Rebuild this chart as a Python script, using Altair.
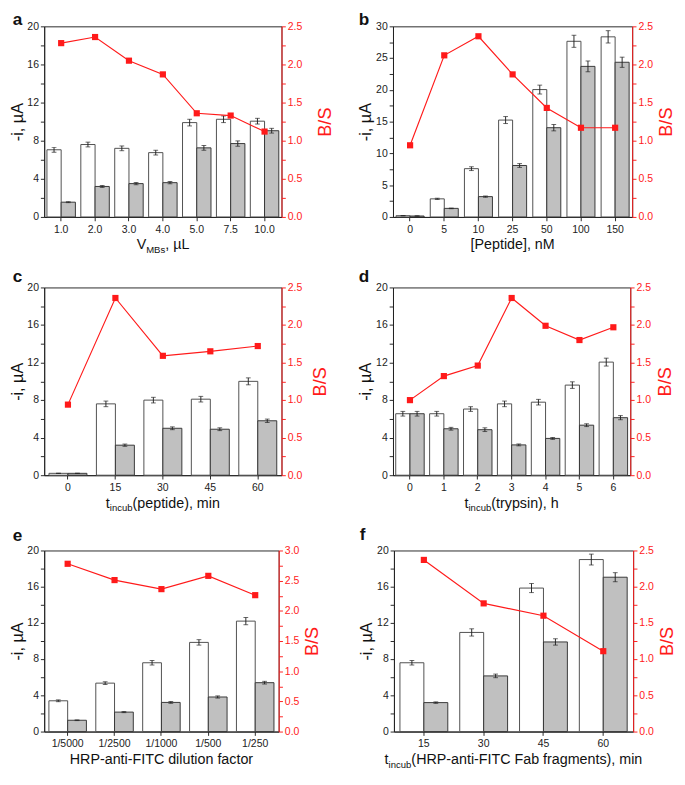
import altair as alt
import pandas as pd

FONT = "Liberation Sans"
RED = "#ff1a1a"
INK = "#222222"

# ---------------- data ----------------
a_cats = ["1.0", "2.0", "3.0", "4.0", "5.0", "7.5", "10.0"]
a_white = [7.05, 7.6, 7.2, 6.75, 9.9, 10.25, 10.05]
a_white_err = [0.25, 0.25, 0.25, 0.25, 0.35, 0.35, 0.3]
a_gray = [1.55, 3.2, 3.5, 3.6, 7.25, 7.7, 9.05]
a_gray_err = [0.05, 0.1, 0.12, 0.12, 0.25, 0.28, 0.25]
a_ratio = [2.28, 2.36, 2.05, 1.87, 1.36, 1.33, 1.12]

b_cats = ["0", "5", "10", "25", "50", "100", "150"]
b_white = [0.2, 2.85, 7.6, 15.25, 20.05, 27.65, 28.35]
b_white_err = [0.03, 0.1, 0.3, 0.55, 0.7, 0.95, 0.97]
b_gray = [0.15, 1.35, 3.2, 8.1, 14.05, 23.7, 24.35]
b_gray_err = [0.03, 0.05, 0.1, 0.3, 0.5, 0.85, 0.8]
b_ratio = [0.94, 2.12, 2.37, 1.87, 1.43, 1.17, 1.17]

c_cats = ["0", "15", "30", "45", "60"]
c_white = [0.2, 7.6, 8.0, 8.1, 10.0]
c_white_err = [0.02, 0.3, 0.3, 0.3, 0.37]
c_gray = [0.2, 3.2, 5.0, 4.9, 5.8]
c_gray_err = [0.02, 0.12, 0.15, 0.15, 0.18]
c_ratio = [0.94, 2.36, 1.59, 1.65, 1.72]

d_cats = ["0", "1", "2", "3", "4", "5", "6"]
d_white = [6.55, 6.55, 7.05, 7.6, 7.78, 9.6, 12.05]
d_white_err = [0.25, 0.25, 0.25, 0.3, 0.3, 0.35, 0.42]
d_gray = [6.55, 4.95, 4.85, 3.23, 3.92, 5.33, 6.13]
d_gray_err = [0.25, 0.15, 0.2, 0.1, 0.1, 0.15, 0.22]
d_ratio = [1.0, 1.32, 1.46, 2.36, 1.99, 1.80, 1.97]

e_cats = ["1/5000", "1/2500", "1/1000", "1/500", "1/250"]
e_white = [3.4, 5.35, 7.6, 9.85, 12.2]
e_white_err = [0.1, 0.15, 0.25, 0.3, 0.4]
e_gray = [1.25, 2.15, 3.22, 3.82, 5.4]
e_gray_err = [0.04, 0.06, 0.1, 0.12, 0.15]
e_ratio = [2.78, 2.51, 2.36, 2.58, 2.26]

f_cats = ["15", "30", "45", "60"]
f_white = [7.6, 10.95, 15.85, 19.0]
f_white_err = [0.25, 0.4, 0.5, 0.6]
f_gray = [3.2, 6.15, 9.9, 17.05]
f_gray_err = [0.08, 0.2, 0.35, 0.5]
f_ratio = [2.37, 1.77, 1.6, 1.11]

# ---------------- helpers ----------------
W = {" ": 278, "(": 333, ")": 333, ",": 278, "-": 333, "/": 278, "[": 278, "]": 278,
     "A": 667, "B": 667, "C": 722, "F": 611, "H": 722, "I": 278, "M": 833, "P": 667,
     "R": 722, "T": 611, "V": 667, "L": 556, "S": 667, "a": 556, "b": 556, "c": 500,
     "d": 556, "e": 556, "f": 278, "g": 556, "h": 556, "i": 222, "l": 222, "m": 833,
     "n": 556, "o": 556, "p": 556, "r": 333, "s": 500, "t": 278, "u": 556, "y": 500,
     "x": 500, "µ": 556}


def tw(s, size):
    return sum(W.get(ch, 556) for ch in s) * size / 1000.0


one = pd.DataFrame({"k": [0]})


def text_layer(s, x, y, size, align="left", weight="normal", color="#111111"):
    return alt.Chart(one).mark_text(
        align=align, baseline="alphabetic", fontSize=size, font=FONT,
        fontWeight=weight, color=color
    ).encode(x=alt.value(x), y=alt.value(y), text=alt.value(s))


def xtitle_layers(pieces, width, height):
    main, sub = 15, 10
    total = sum(tw(t, sub if s else main) for t, s in pieces)
    x = width / 2 - total / 2
    base_y = height + 34
    out = []
    for t, s in pieces:
        size = sub if s else main
        out.append(text_layer(t, x, base_y + (4 if s else 0), size))
        x += tw(t, size)
    return out


def panel(letter, cats, white, white_err, gray, gray_err, ratio, ymax, ystep,
          ylabstep, rmax, width, height, pad, xtitle, ldx, ldy, bspad):
    n = len(cats)
    wdf = pd.DataFrame({"cat": cats, "val": white, "err": white_err})
    gdf = pd.DataFrame({"cat": cats, "val": gray, "err": gray_err})
    rdf = pd.DataFrame({"cat": cats, "r": ratio})

    xscale = alt.Scale(paddingInner=0.1, paddingOuter=0.05)
    xaxis = alt.Axis(title=None, labelAngle=0, labelFontSize=11, labelColor=INK,
                     domainColor=INK, tickColor=INK, tickSize=4, labelPadding=3,
                     grid=False)
    x = alt.X("cat:N", sort=cats, scale=xscale, axis=xaxis)
    bw = width / n * (1 - pad) / 2

    nvals = int(round(ymax / ystep))
    yvals = [round(i * ystep, 3) for i in range(nvals + 1)]
    lscale = alt.Scale(domain=[0, ymax], nice=False)
    laxis = alt.Axis(
        title="-i, µA", titleFontSize=17, titleFontWeight="normal", titleColor="#111111",
        titlePadding=1, values=yvals,
        labelExpr=f"abs(datum.value / {ylabstep} - round(datum.value / {ylabstep})) < 0.001 ? datum.label : ''",
        labelFontSize=11, labelColor=INK, domainColor=INK, tickColor=INK,
        tickSize=4, labelPadding=2, grid=False, labelOverlap=False)

    rvals = [round(i * 0.25, 3) for i in range(int(round(rmax / 0.25)) + 1)]
    rscale = alt.Scale(domain=[0, rmax], nice=False)
    raxis = alt.Axis(
        orient="right", title="B/S", titleFontSize=19, titleFontWeight="normal",
        titleColor=RED, titleAngle=270, titleBaseline="bottom", titlePadding=bspad,
        values=rvals,
        labelExpr="abs(datum.value * 2 - round(datum.value * 2)) < 0.001 ? format(datum.value, '.1f') : ''",
        labelFontSize=11, labelColor=RED, domainColor=RED, tickColor=RED,
        tickSize=4, labelPadding=2, grid=False, labelOverlap=False)

    layers = []
    for frame, off, fill, stroke in [(wdf, -bw / 2, "#ffffff", "#4a4a4a"),
                                     (gdf, bw / 2, "#c0c0c0", "#333333")]:
        base = alt.Chart(frame).encode(x=x)
        layers.append(base.mark_bar(width=bw, xOffset=off, fill=fill, stroke=stroke,
                                    strokeWidth=1).encode(
            y=alt.Y("val:Q", scale=lscale, axis=laxis)))
        eb = base.transform_calculate(lo="datum.val - datum.err", hi="datum.val + datum.err")
        layers.append(eb.mark_rule(color=INK, strokeWidth=1, xOffset=off).encode(
            y=alt.Y("lo:Q", scale=lscale, axis=laxis), y2="hi:Q"))
        layers.append(eb.mark_tick(color=INK, thickness=1, size=5, xOffset=off).encode(
            y=alt.Y("hi:Q", scale=lscale, axis=laxis)))
        layers.append(eb.mark_tick(color=INK, thickness=1, size=5, xOffset=off).encode(
            y=alt.Y("lo:Q", scale=lscale, axis=laxis)))
    left = alt.layer(*layers)

    rbase = alt.Chart(rdf).encode(x=x, y=alt.Y("r:Q", scale=rscale, axis=raxis))
    rline = rbase.mark_line(color=RED, strokeWidth=1.2)
    rpts = rbase.mark_point(shape="square", filled=True, size=42, color=RED, opacity=1)
    right = alt.layer(rline, rpts)

    texts = [text_layer(letter, ldx, ldy, 18, weight="bold")]
    if isinstance(xtitle, str):
        texts.append(text_layer(xtitle, width / 2, height + 34, 15, align="center"))
    else:
        texts += xtitle_layers(xtitle, width, height)

    return alt.layer(left, right, *texts).resolve_scale(y="independent").properties(
        width=width, height=height)


pa = panel("a", a_cats, a_white, a_white_err, a_gray, a_gray_err, a_ratio, 20, 2, 4, 2.5,
           249, 200, 0.16, [("V", False), ("MBs", True), (", µL", False)], -33, -1, 34)
pb = panel("b", b_cats, b_white, b_white_err, b_gray, b_gray_err, b_ratio, 30, 2.5, 5, 2.5,
           251, 200, 0.18, "[Peptide], nM", -36, -1, 24)
pc = panel("c", c_cats, c_white, c_white_err, c_gray, c_gray_err, c_ratio, 20, 2, 4, 2.5,
           249, 197, 0.2, [("t", False), ("incub", True), ("(peptide), min", False)], -33, -6, 29)
pd_ = panel("d", d_cats, d_white, d_white_err, d_gray, d_gray_err, d_ratio, 20, 2, 4, 2.5,
            249, 197, 0.16, [("t", False), ("incub", True), ("(trypsin), h", False)], -36, -6, 25)
pe = panel("e", e_cats, e_white, e_white_err, e_gray, e_gray_err, e_ratio, 20, 2, 4, 3.0,
           246, 190, 0.2, "HRP-anti-FITC dilution factor", -33, -10, 24)
pf = panel("f", f_cats, f_white, f_white_err, f_gray, f_gray_err, f_ratio, 20, 2, 4, 2.5,
           251, 190, 0.2, [("t", False), ("incub", True), ("(HRP-anti-FITC Fab fragments), min", False)], -36, -11, 24)

chart = alt.vconcat(
    alt.hconcat(pa, pb, spacing=23),
    alt.hconcat(pc, pd_, spacing=28),
    alt.hconcat(pe, pf, spacing=37),
    spacing=12,
).properties(
    padding={"left": 0, "top": -16, "right": 0, "bottom": 0}
).configure(font=FONT).configure_view(stroke=INK, strokeWidth=1)

chart.save("out.html", embed_options={"renderer": "svg", "actions": False})
